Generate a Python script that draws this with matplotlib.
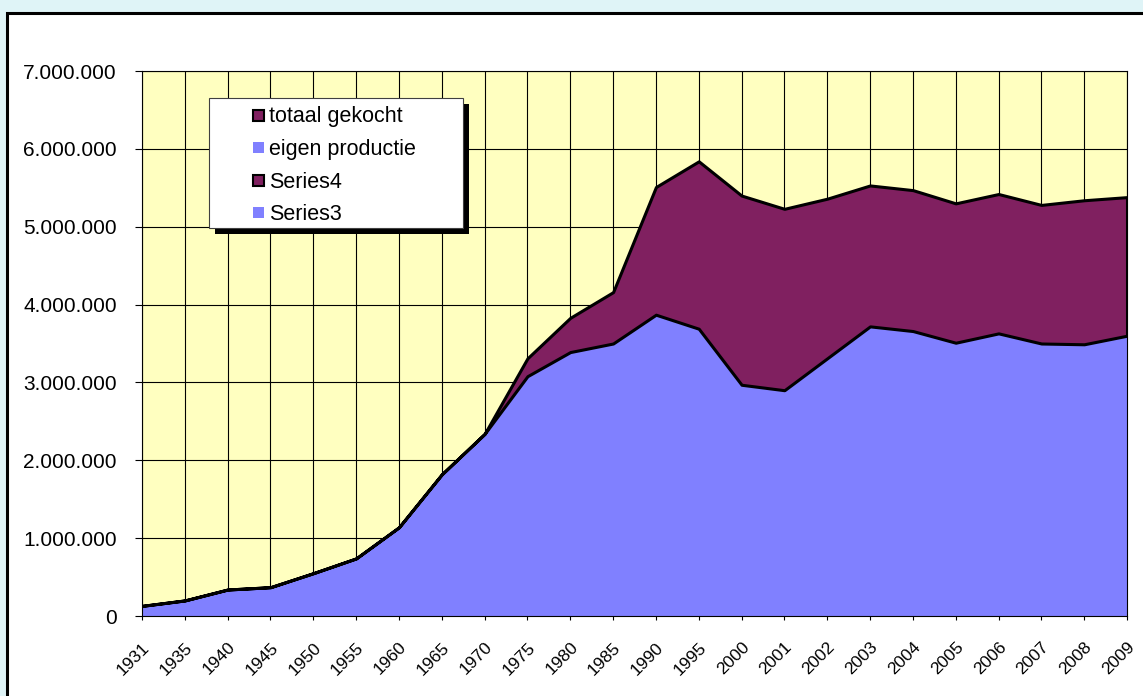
import matplotlib
matplotlib.use('Agg')
import matplotlib.pyplot as plt
from matplotlib.patches import Rectangle
from matplotlib.ticker import FuncFormatter

# Data
years = ['1931', '1935', '1940', '1945', '1950', '1955', '1960', '1965', '1970',
         '1975', '1980', '1985', '1990', '1995', '2000', '2001', '2002', '2003',
         '2004', '2005', '2006', '2007', '2008', '2009']
eigen_productie = [130000, 200000, 340000, 370000, 550000, 740000, 1140000, 1820000,
                   2340000, 3080000, 3390000, 3500000, 3870000, 3690000, 2970000,
                   2900000, 3310000, 3720000, 3660000, 3510000, 3630000, 3500000,
                   3490000, 3600000]
totaal_gekocht = [0, 0, 0, 0, 0, 0, 0, 0, 0, 230000, 440000, 660000, 1640000, 2150000,
                  2430000, 2330000, 2050000, 1810000, 1810000, 1790000, 1790000,
                  1780000, 1850000, 1780000]
legend_labels = ['totaal gekocht', 'eigen productie', 'Series4', 'Series3']
y_ticks = [0, 1000000, 2000000, 3000000, 4000000, 5000000, 6000000, 7000000]

W, H = 1143, 696
BLUE = '#8080FF'
PURPLE = '#802060'
YELLOW = '#FFFFC0'
FONT = 'Liberation Sans'

plt.rcParams['font.family'] = FONT


def px(x, y):
    # pixel position (from top-left) to figure fraction
    return (x / W, 1 - y / H)


fig = plt.figure(figsize=(W / 100, H / 100), dpi=100)
fig.patch.set_facecolor('#dff4f7')

# white chart area with black border
fig.add_artist(Rectangle(px(7, 720), 1.1, (720 - 13) / H, transform=fig.transFigure,
                         facecolor='white', edgecolor='black', linewidth=2.2, zorder=-1))

ax = fig.add_axes([142 / W, 1 - 616 / H, 985 / W, 545 / H])
ax.set_facecolor(YELLOW)

x = list(range(len(years)))
top = [e + g for e, g in zip(eigen_productie, totaal_gekocht)]

ax.fill_between(x, 0, eigen_productie, facecolor=BLUE, edgecolor='none', zorder=2)
ax.fill_between(x, eigen_productie, top, facecolor=PURPLE, edgecolor='black',
                linewidth=2.2, zorder=3)

ax.set_xlim(0, len(years) - 1)
ax.set_ylim(0, 7000000)
ax.set_xticks(x)
ax.set_xticklabels(years, rotation=45, ha='right', va='top', rotation_mode='anchor',
                   fontsize=12.5)
ax.set_yticks(y_ticks)
ax.yaxis.set_major_formatter(FuncFormatter(lambda v, p: '{:,}'.format(int(v)).replace(',', '.')))
ax.tick_params(axis='y', direction='out', length=5, width=0.8, pad=13, labelsize=15)
ax.tick_params(axis='x', direction='out', length=3, width=0.8, pad=14)

ax.set_axisbelow(True)
ax.grid(True, color='black', linewidth=0.8)
for s in ax.spines.values():
    s.set_color('black')
    s.set_linewidth(0.8)
    s.set_zorder(4)

# legend box with solid shadow
fig.add_artist(Rectangle(px(215, 234), 254 / W, 130 / H, transform=fig.transFigure,
                         facecolor='black', edgecolor='none', zorder=5))
fig.add_artist(Rectangle(px(209, 228), 254 / W, 130 / H, transform=fig.transFigure,
                         facecolor='white', edgecolor='#404040', linewidth=0.8, zorder=6))
marker_rows = [115, 147, 180, 212]
text_rows = [122, 155, 188, 220]
for i, label in enumerate(legend_labels):
    purple = i % 2 == 0
    fig.add_artist(Rectangle(px(253, marker_rows[i] + 5.5), 11 / W, 11 / H,
                             transform=fig.transFigure,
                             facecolor=PURPLE if purple else BLUE,
                             edgecolor='black' if purple else 'none',
                             linewidth=1.5, zorder=7))
    fig.text(*px(269, text_rows[i]), label, fontsize=15.5, va='baseline', ha='left',
             zorder=7)

fig.savefig('out.png', dpi=100, facecolor=fig.get_facecolor())
